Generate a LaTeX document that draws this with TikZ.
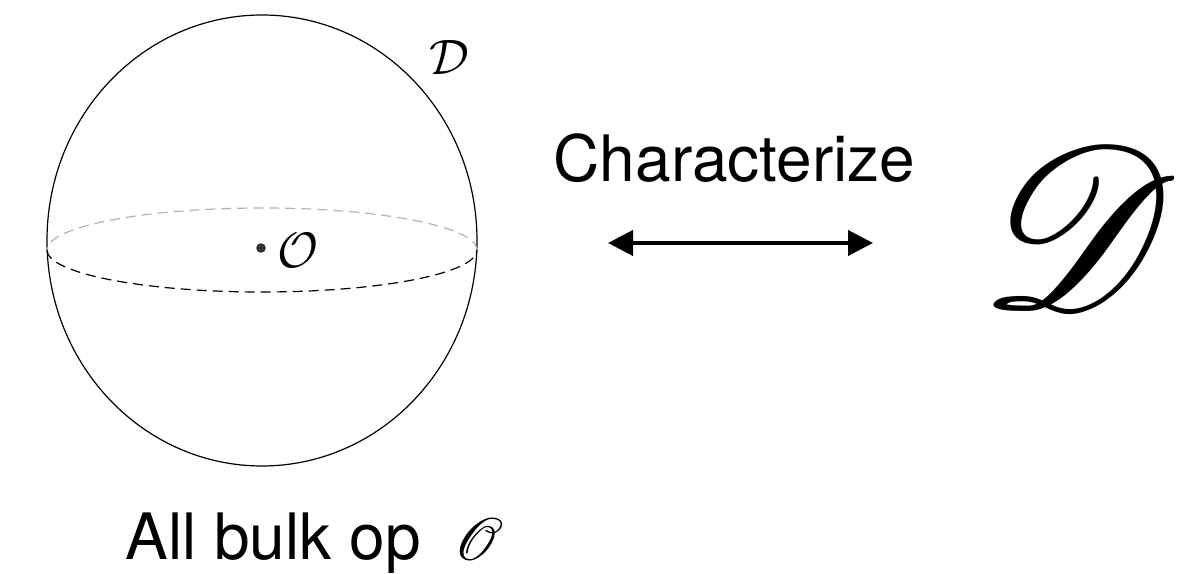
\documentclass[tikz,border=0pt]{standalone}
\usepackage{fontspec}
\usepackage{amsmath}
\usepackage{mathrsfs}
\usepackage{graphicx}
\newfontfamily\helv{TeX Gyre Heros}
\usetikzlibrary{calc, positioning}
\usetikzlibrary{arrows.meta}

\begin{document}
\begin{tikzpicture}[x=0.5pt, y=0.5pt,
    label text/.style={font=\helv\fontsize{32}{32}\selectfont, inner sep=0pt},
    cal label/.style={font=\fontsize{31}{31}\selectfont, inner sep=0pt}]
\def\rx{215}
\def\ry{225.5}
\def\ery{42}
\useasboundingbox (0,0) rectangle (1178,573);
\coordinate (C) at (262,332.5);
\coordinate (E) at (262,323);
\coordinate (Dot) at (261,325);
\coordinate (ArrL) at (608,330);
\coordinate (ArrR) at (873,330);

% the ball and its equator
\draw[line width=0.6pt] (C) ellipse [x radius=\rx, y radius=\ry];
\draw[gray!60, line width=0.6pt, dash pattern=on 5pt off 3pt]
  ($(E)+(\rx,0)$) arc[start angle=0, end angle=180, x radius=\rx, y radius=\ery];
\draw[line width=0.6pt, dash pattern=on 5pt off 3pt]
  ($(E)+(-\rx,0)$) arc[start angle=180, end angle=360, x radius=\rx, y radius=\ery];

\fill[black!80] (Dot) circle (2.4pt);
\node[cal label, anchor=base] (opin) at (298,305) {$\mathcal{O}$};
\node[cal label, anchor=base] (bdry) at (449,498) {$\mathcal{D}$};

\node[label text, anchor=base] (char) at (734.5,391) {Characterize};
\draw[line width=2pt, {Triangle[length=12.5pt, width=12.5pt]}-{Triangle[length=12.5pt, width=12.5pt]}] (ArrL) -- (ArrR);

\node[font=\fontsize{10}{10}\selectfont, inner sep=0pt] (bigD) at (1079,346) {\scalebox{11.5}{$\mathscr{D}$}};

\node[label text, anchor=base west] (bulk) at (125,13)
  {All bulk op\hspace{8pt} {\fontsize{10}{10}\selectfont\scalebox{3}{$\mathscr{O}$}}};
\end{tikzpicture}
\end{document}
